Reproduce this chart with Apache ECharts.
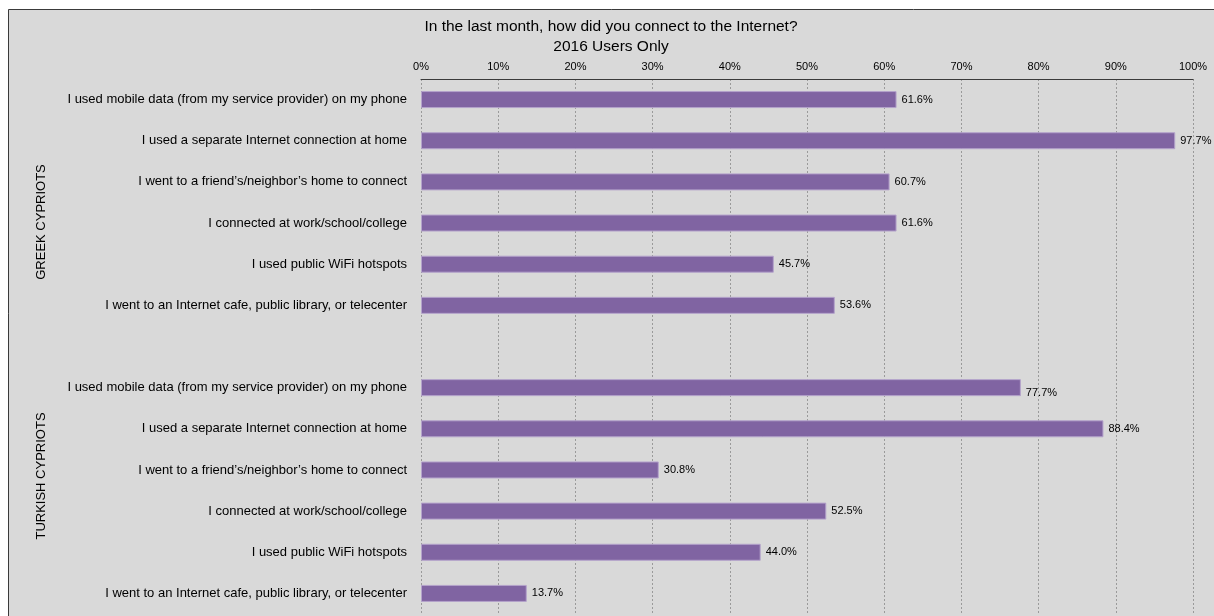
<!DOCTYPE html>
<html>
<head>
<meta charset="utf-8">
<title>Internet connection methods, 2016 users</title>
<script src="https://cdn.jsdelivr.net/npm/echarts@6/dist/echarts.min.js"></script>
<style>
  html, body { margin: 0; padding: 0; background: #ffffff; }
  #chart { width: 1214px; height: 616px; }
</style>
</head>
<body>
<div id="chart"></div>
<script>
// Connection methods asked about in the survey
const methods = [
  "I used mobile data (from my service provider) on my phone",
  "I used a separate Internet connection at home",
  "I went to a friend\u2019s/neighbor\u2019s home to connect",
  "I connected at work/school/college",
  "I used public WiFi hotspots",
  "I went to an Internet cafe, public library, or telecenter"
];

// Share of 2016 users (%) per community
const greekCypriots = [61.6, 97.7, 60.7, 61.6, 45.7, 53.6];
const turkishCypriots = [77.7, 88.4, 30.8, 52.5, 44.0, 13.7];

const groupNames = ["GREEK CYPRIOTS", "TURKISH CYPRIOTS"];
const tickValues = [0, 10, 20, 30, 40, 50, 60, 70, 80, 90, 100];

// One blank slot separates the two communities on the category axis
const categories = methods.concat([""], methods);
const barValues = greekCypriots.concat([null], turkishCypriots);

const FONT = "'Liberation Sans', Arial, sans-serif";
const chart = echarts.init(document.getElementById("chart"));

chart.setOption({
  animation: false,
  backgroundColor: "#ffffff",
  textStyle: { fontFamily: FONT },
  title: {
    text: "In the last month, how did you connect to the Internet?\n2016 Users Only",
    left: 611,
    top: 17,
    textAlign: "center",
    padding: 0,
    textStyle: { fontSize: 15.5, lineHeight: 20, fontWeight: "normal", color: "#000", fontFamily: FONT, align: "center" }
  },
  graphic: [
    {
      type: "rect",
      z: -10,
      silent: true,
      shape: { x: 8.5, y: 9.5, width: 1220, height: 620 },
      style: { fill: "#d9d9d9", stroke: "#3a3a3a", lineWidth: 1 }
    },
    {
      type: "text",
      x: 41, y: 222,
      rotation: Math.PI / 2,
      style: { text: groupNames[0], font: "13px " + FONT, fill: "#000", align: "center", verticalAlign: "middle" }
    },
    {
      type: "text",
      x: 41, y: 476,
      rotation: Math.PI / 2,
      style: { text: groupNames[1], font: "13px " + FONT, fill: "#000", align: "center", verticalAlign: "middle" }
    }
  ],
  grid: { left: 421, right: 21, top: 79, bottom: 2, containLabel: false },
  xAxis: {
    type: "value",
    position: "top",
    min: tickValues[0],
    max: tickValues[tickValues.length - 1],
    interval: tickValues[1] - tickValues[0],
    axisLine: { show: true, lineStyle: { color: "#3a3a3a", width: 1 } },
    axisTick: { show: false },
    axisLabel: { formatter: "{value}%", fontSize: 11, color: "#000", margin: 7, fontFamily: FONT },
    splitLine: { show: true, lineStyle: { color: "#9a9a9a", type: [2, 2], width: 1 } }
  },
  yAxis: {
    type: "category",
    inverse: true,
    data: categories,
    axisLine: { show: false },
    axisTick: { show: false },
    axisLabel: { fontSize: 13, color: "#000", margin: 14, fontFamily: FONT },
    splitLine: { show: false }
  },
  series: [
    {
      type: "bar",
      data: barValues.map((v, i) => ({
        value: v,
        label: i === 7 ? { offset: [0, 5] } : undefined
      })),
      barWidth: 17,
      itemStyle: { color: "#8064a2", borderColor: "#b4a3cb", borderWidth: 1 },
      label: {
        show: true,
        position: "right",
        distance: 5,
        fontSize: 11,
        color: "#000",
        fontFamily: FONT,
        formatter: p => (p.value == null ? "" : p.value.toFixed(1) + "%")
      }
    }
  ]
});
</script>
</body>
</html>
